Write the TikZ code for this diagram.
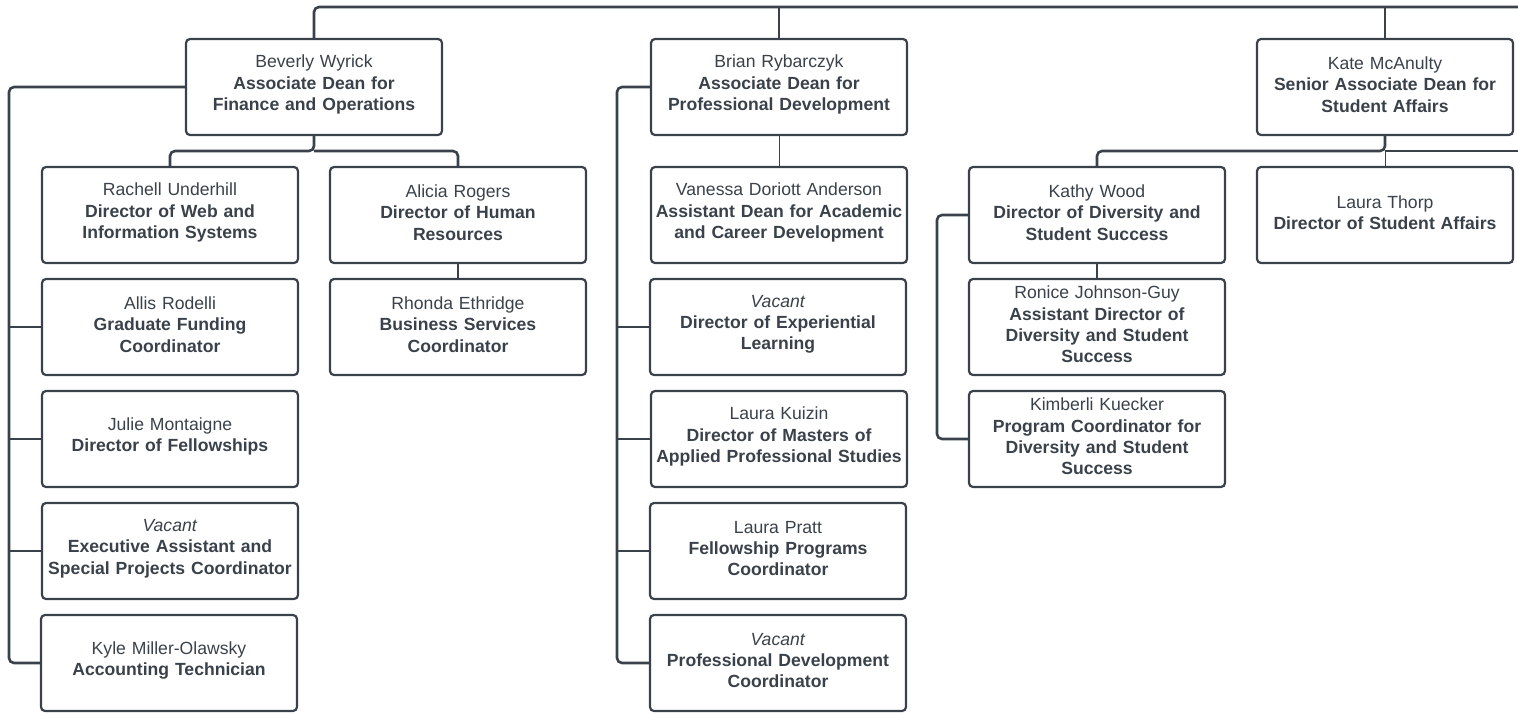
\documentclass[tikz,border=0pt]{standalone}
\usepackage{fontspec}
\setmainfont{Liberation Sans}
\definecolor{ink}{RGB}{58,65,74}
\tikzset{
  box/.style={draw=ink, line width=2.2pt, rounded corners=4pt, minimum width=256pt, minimum height=96pt,
    text width=254pt, align=center, text=ink, inner sep=0pt, font=\fontsize{17.6}{21.3}\selectfont,
    execute at end node={\par\vspace*{5pt}}},
  conn/.style={draw=ink, line width=2.6pt, rounded corners=5pt},
  thinconn/.style={draw=ink, line width=0.8pt}
}
\begin{document}
\begin{tikzpicture}[x=1pt,y=-1pt]
\useasboundingbox (0,0) rectangle (1518,713);
% level 1
\node[box] (bev) at (314,87) {Beverly Wyrick\\\textbf{Associate Dean for}\\\textbf{Finance and Operations}};
\node[box] (bri) at (779,87) {Brian Rybarczyk\\\textbf{Associate Dean for}\\\textbf{Professional Development}};
\node[box] (kat) at (1385,87) {Kate McAnulty\\\textbf{Senior Associate Dean for}\\\textbf{Student Affairs}};
% Beverly branch
\node[box] (rach) at (170,215) {Rachell Underhill\\\textbf{Director of Web and}\\\textbf{Information Systems}};
\node[box] (alic) at (458,215) {Alicia Rogers\\\textbf{Director of Human}\\\textbf{Resources}};
\node[box] (rhon) at (458,327) {Rhonda Ethridge\\\textbf{Business Services}\\\textbf{Coordinator}};
\node[box] (alli) at (170,327) {Allis Rodelli\\\textbf{Graduate Funding}\\\textbf{Coordinator}};
\node[box] (juli) at (170,439) {Julie Montaigne\\\textbf{Director of Fellowships}};
\node[box] (vexe) at (170,551) {\textit{Vacant}\\\textbf{Executive Assistant and}\\\textbf{Special Projects Coordinator}};
\node[box] (kyle) at (169,663) {Kyle Miller-Olawsky\\\textbf{Accounting Technician}};
% Brian branch
\node[box] (vane) at (779,215) {Vanessa Doriott Anderson\\\textbf{Assistant Dean for Academic}\\\textbf{and Career Development}};
\node[box] (vexp) at (778,327) {\textit{Vacant}\\\textbf{Director of Experiential}\\\textbf{Learning}};
\node[box] (kuiz) at (779,439) {Laura Kuizin\\\textbf{Director of Masters of}\\\textbf{Applied Professional Studies}};
\node[box] (prat) at (778,551) {Laura Pratt\\\textbf{Fellowship Programs}\\\textbf{Coordinator}};
\node[box] (vpro) at (778,663) {\textit{Vacant}\\\textbf{Professional Development}\\\textbf{Coordinator}};
% Kate branch
\node[box] (kath) at (1097,215) {Kathy Wood\\\textbf{Director of Diversity and}\\\textbf{Student Success}};
\node[box] (thor) at (1385,215) {Laura Thorp\\\textbf{Director of Student Affairs}};
\node[box] (roni) at (1097,327) {Ronice Johnson-Guy\\\textbf{Assistant Director of}\\\textbf{Diversity and Student}\\\textbf{Success}};
\node[box] (kimb) at (1097,439) {Kimberli Kuecker\\\textbf{Program Coordinator for}\\\textbf{Diversity and Student}\\\textbf{Success}};
% coordinates
\coordinate (topR) at (1518,7);
\coordinate (bevJ) at (314,151);
\coordinate (katJ) at (1385,151);
\coordinate (katR) at (1518,151);
\coordinate (bevT) at (9,87);
\coordinate (briT) at (617,87);
\coordinate (katT) at (937,215);
% top line
\draw[conn] (bev.north) |- (topR);
\draw[conn] (bri.north) -- (bri.north |- topR);
\draw[conn] (kat.north) -- (kat.north |- topR);
% Beverly
\draw[conn] (bev.south) -- (bevJ) -| (rach.north);
\draw[conn] (bevJ) -| (alic.north);
\draw[conn] (alic.south) -- (rhon.north);
\draw[conn] (bev.west) -- (bevT) |- (kyle.west);
\draw[conn] (bevT |- alli.west) -- (alli.west);
\draw[conn] (bevT |- juli.west) -- (juli.west);
\draw[conn] (bevT |- vexe.west) -- (vexe.west);
% Brian
\draw[thinconn] (bri.south) -- (vane.north);
\draw[conn] (bri.west) -- (briT) |- (vpro.west);
\draw[conn] (briT |- vexp.west) -- (vexp.west);
\draw[conn] (briT |- kuiz.west) -- (kuiz.west);
\draw[conn] (briT |- prat.west) -- (prat.west);
% Kate
\draw[conn] (kat.south) -- (katJ) -| (kath.north);
\draw[conn] (katJ) -- (katR);
\draw[thinconn] (katJ) -- (thor.north);
\draw[conn] (kath.south) -- (roni.north);
\draw[conn] (kath.west) -- (katT) |- (kimb.west);
\end{tikzpicture}
\end{document}
